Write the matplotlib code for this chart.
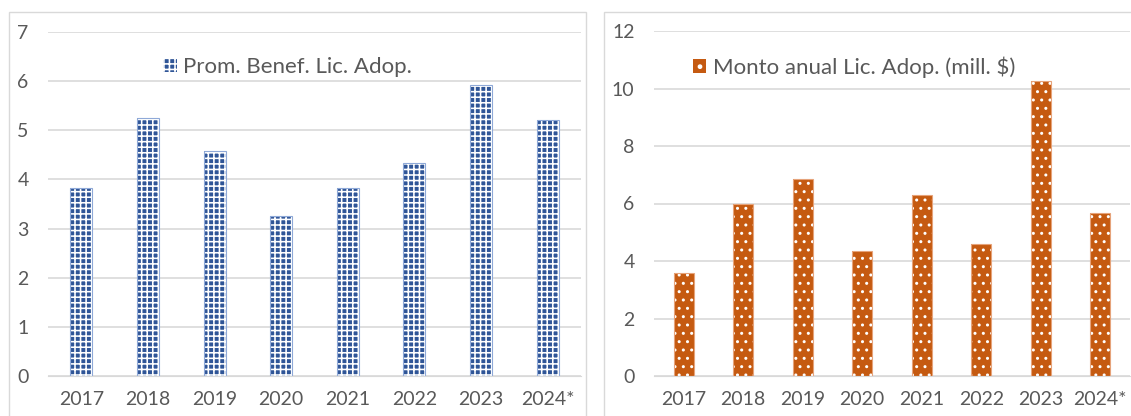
import matplotlib.pyplot as plt
from matplotlib.patches import Rectangle, Patch

plt.rcParams['font.family'] = ['Lato', 'DejaVu Sans']
plt.rcParams['hatch.color'] = 'white'

years = ['2017', '2018', '2019', '2020', '2021', '2022', '2023', '2024*']
prom_benef = [3.83, 5.25, 4.58, 3.25, 3.83, 4.33, 5.92, 5.2]
monto_anual = [3.58, 5.98, 6.85, 4.35, 6.3, 4.59, 10.26, 5.67]

blue = '#2F5597'
orange = '#C55A11'
grid = '#D9D9D9'
txt = '#595959'

fig = plt.figure(figsize=(11.31, 4.16), dpi=100)

# panel frames
fig.patches.append(Rectangle((9 / 1131, -0.05), 577 / 1131, 1 - 12 / 416 + 0.05,
                             transform=fig.transFigure, fill=False, edgecolor=grid, lw=1))
fig.patches.append(Rectangle((604 / 1131, -0.05), 0.6, 1 - 12 / 416 + 0.05,
                             transform=fig.transFigure, fill=False, edgecolor=grid, lw=1))

ax1 = fig.add_axes([48 / 1131, 40 / 416, 533 / 1131, 344 / 416])
ax2 = fig.add_axes([654 / 1131, 40 / 416, 476 / 1131, 345 / 416])


def style(ax, ylim, step):
    ax.set_ylim(0, ylim)
    ax.set_yticks(range(0, ylim + 1, step))
    ax.set_xlim(-0.5, len(years) - 0.5)
    for s in ['top', 'right', 'left']:
        ax.spines[s].set_visible(False)
    ax.spines['bottom'].set_color(grid)
    ax.grid(axis='y', color=grid, lw=1.2)
    ax.set_axisbelow(True)
    ax.tick_params(length=0, labelsize=14, colors=txt)
    ax.tick_params(axis='y', pad=14)
    ax.tick_params(axis='x', pad=11)
    ax.set_facecolor('none')


x = range(len(years))
plt.rcParams['hatch.linewidth'] = 1.15
ax1.bar(x, prom_benef, width=0.33, color=blue, hatch='+++')
ax1.bar(x, prom_benef, width=0.33, fill=False, edgecolor='#8FA9D8', lw=0.8)
ax1.set_xticks(x, years)
style(ax1, 7, 1)
ax1.legend(handles=[Patch(facecolor=blue, hatch='+++', label='Prom. Benef. Lic. Adop.')],
           loc='upper center', bbox_to_anchor=(0.45, 0.985), frameon=False, fontsize=16,
           labelcolor=txt, handlelength=0.6, handleheight=0.6, handletextpad=0.3)

plt.rcParams['hatch.linewidth'] = 1.0
ax2.bar(x, monto_anual, width=0.34, color=orange, hatch='..')
ax2.bar(x, monto_anual, width=0.34, fill=False, edgecolor='#E6A37A', lw=0.8)
ax2.set_xticks(x, years)
style(ax2, 12, 2)
ax2.legend(handles=[Patch(facecolor=orange, hatch='.', label='Monto anual Lic. Adop. (mill. $)')],
           loc='upper center', bbox_to_anchor=(0.42, 0.985), frameon=False, fontsize=16,
           labelcolor=txt, handlelength=0.6, handleheight=0.6, handletextpad=0.3)

fig.savefig('out.png', dpi=100)
